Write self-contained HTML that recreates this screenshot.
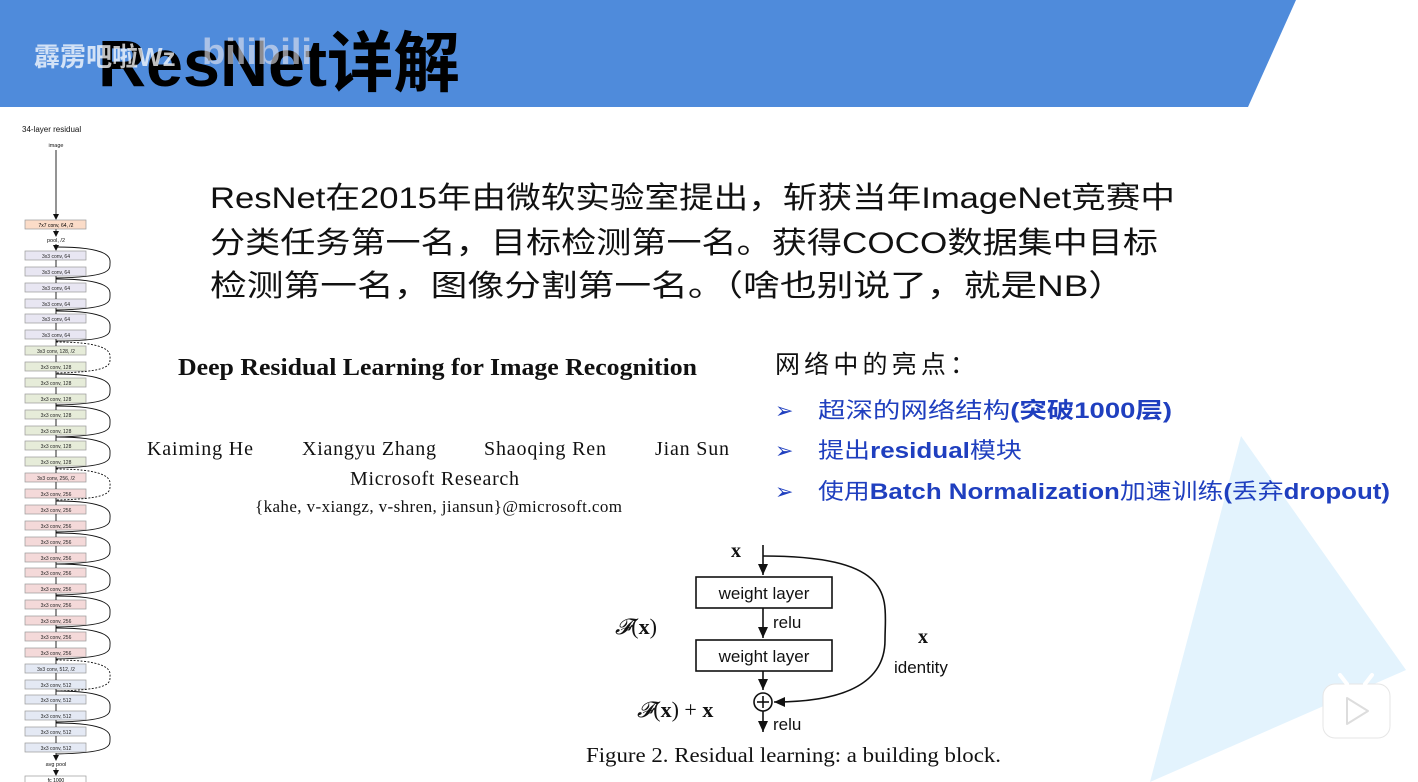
<!DOCTYPE html>
<html><head><meta charset="utf-8"><style>
html,body{margin:0;padding:0;width:1418px;height:782px;overflow:hidden;background:#fff}
svg{display:block}
.cj{font-family:"Liberation Sans","Noto Sans CJK SC",sans-serif}
.se{font-family:"Liberation Serif","Noto Serif CJK SC",serif}
</style></head><body>
<svg width="1418" height="782" viewBox="0 0 1418 782" xmlns="http://www.w3.org/2000/svg">
<defs>
<marker id="a" markerWidth="6" markerHeight="6" refX="5" refY="3" orient="auto" markerUnits="userSpaceOnUse"><path d="M0,0 L6,3 L0,6 z" fill="#111"/></marker>
<marker id="b" markerWidth="12" markerHeight="12" refX="11" refY="5" orient="auto" markerUnits="userSpaceOnUse"><path d="M0,0 L11,5 L0,10 z" fill="#111"/></marker>
</defs>
<polygon points="1150,782 1241,436 1406,670" fill="#e3f3fd"/>
<polygon points="0,0 1296,0 1248,107 0,107" fill="#4f8bdb"/>
<text x="98" y="86" class="cj" font-size="66" font-weight="bold" fill="#000" textLength="362" lengthAdjust="spacingAndGlyphs">ResNet详解</text>
<text x="34" y="66" class="cj" font-size="26" font-weight="bold" fill="#fff" opacity="0.75">霹雳吧啦Wz</text>
<text x="202" y="64" class="cj" font-size="36" font-weight="bold" fill="#e8e8f0" opacity="0.6" textLength="110" lengthAdjust="spacingAndGlyphs">bilibili</text>

<g class="cj" font-size="30" fill="#111">
<text x="210" y="208" textLength="965" lengthAdjust="spacingAndGlyphs">ResNet在2015年由微软实验室提出，斩获当年ImageNet竞赛中</text>
<text x="210" y="253" textLength="948" lengthAdjust="spacingAndGlyphs">分类任务第一名，目标检测第一名。获得COCO数据集中目标</text>
<text x="210" y="296" textLength="915" lengthAdjust="spacingAndGlyphs">检测第一名，图像分割第一名。（啥也别说了，就是NB）</text>
</g>

<g class="se" fill="#111">
<text x="178" y="375" font-size="24" font-weight="bold" textLength="519" lengthAdjust="spacingAndGlyphs">Deep Residual Learning for Image Recognition</text>
<text x="147" y="455" font-size="20" textLength="106">Kaiming He</text>
<text x="302" y="455" font-size="20" textLength="134">Xiangyu Zhang</text>
<text x="484" y="455" font-size="20" textLength="122">Shaoqing Ren</text>
<text x="655" y="455" font-size="20" textLength="74">Jian Sun</text>
<text x="350" y="485" font-size="20" textLength="169">Microsoft Research</text>
<text x="255" y="512" font-size="17" textLength="367">{kahe, v-xiangz, v-shren, jiansun}@microsoft.com</text>
<text x="586" y="762" font-size="21" textLength="415" lengthAdjust="spacingAndGlyphs">Figure 2. Residual learning: a building block.</text>
</g>

<g class="cj">
<text x="775" y="373" font-size="25" fill="#111" textLength="200">网络中的亮点：</text>
<g fill="#1f3fbf" font-size="22">
<text x="775" y="418">➢</text><text x="818" y="418" textLength="354" lengthAdjust="spacingAndGlyphs">超深的网络结构<tspan font-weight="bold">(突破1000层)</tspan></text>
<text x="775" y="458">➢</text><text x="818" y="458" textLength="204" lengthAdjust="spacingAndGlyphs">提出<tspan font-weight="bold">residual</tspan>模块</text>
<text x="775" y="499">➢</text><text x="818" y="499" textLength="572" lengthAdjust="spacingAndGlyphs">使用<tspan font-weight="bold">Batch Normalization</tspan>加速训练<tspan font-weight="bold">(</tspan>丢弃<tspan font-weight="bold">dropout)</tspan></text>
</g>
</g>

<!-- building block -->
<g stroke="#111" stroke-width="1.6" fill="none">
<line x1="763" y1="545" x2="763" y2="575" marker-end="url(#b)"/>
<rect x="696" y="577" width="136" height="31" fill="#fff"/>
<line x1="763" y1="608" x2="763" y2="638" marker-end="url(#b)"/>
<rect x="696" y="640" width="136" height="31" fill="#fff"/>
<line x1="763" y1="671" x2="763" y2="690" marker-end="url(#b)"/>
<circle cx="763" cy="702" r="9" fill="#fff"/>
<line x1="757" y1="702" x2="769" y2="702"/><line x1="763" y1="696" x2="763" y2="708"/>
<line x1="763" y1="711" x2="763" y2="732" marker-end="url(#b)"/>
<path d="M763,556 C900,556 885,600 885,640 C885,690 830,702 774,702" marker-end="url(#b)"/>
</g>
<g class="cj" fill="#111" font-size="17">
<text x="764" y="599" text-anchor="middle">weight layer</text>
<text x="764" y="662" text-anchor="middle">weight layer</text>
<text x="773" y="628">relu</text>
<text x="773" y="730">relu</text>
<text x="894" y="673">identity</text>
</g>
<g class="se" fill="#111">
<text x="731" y="557" font-size="20" font-weight="bold">x</text>
<text x="918" y="643" font-size="20" font-weight="bold">x</text>
<text x="615" y="634" font-size="22" font-style="italic">𝓕<tspan font-style="normal">(</tspan><tspan font-weight="bold" font-style="normal">x</tspan><tspan font-style="normal">)</tspan></text>
<text x="637" y="717" font-size="22" font-style="italic">𝓕<tspan font-style="normal">(</tspan><tspan font-weight="bold" font-style="normal">x</tspan><tspan font-style="normal">) + </tspan><tspan font-weight="bold" font-style="normal">x</tspan></text>
</g>

<!-- bilibili logo -->
<g>
<rect x="1323" y="684" width="67" height="54" rx="12" fill="#fff" stroke="#e6e6e6"/>
<line x1="1340" y1="675" x2="1347" y2="684" stroke="#fff" stroke-width="4" stroke-linecap="round"/>
<line x1="1372" y1="675" x2="1365" y2="684" stroke="#fff" stroke-width="4" stroke-linecap="round"/>
<path d="M1347,698 L1368,711 L1347,724 z" fill="#fff" stroke="#ddd" stroke-width="2" stroke-linejoin="round"/>
</g>

<!-- 34-layer residual -->
<g class="cj" fill="#111">
<text x="22" y="132" font-size="8">34-layer residual</text>
<text x="56" y="147" font-size="5.5" text-anchor="middle">image</text>
<text x="56" y="242" font-size="5.5" text-anchor="middle">pool, /2</text>
<text x="56" y="766" font-size="5.5" text-anchor="middle">avg pool</text>
</g>
<g stroke="#111" stroke-width="0.9" fill="none">
<line x1="56" y1="150" x2="56" y2="219" marker-end="url(#a)"/>
<line x1="56" y1="229" x2="56" y2="236" marker-end="url(#a)"/>
<line x1="56" y1="244" x2="56" y2="250" marker-end="url(#a)"/>
<line x1="56" y1="753" x2="56" y2="760" marker-end="url(#a)"/>
<line x1="56" y1="768" x2="56" y2="775" marker-end="url(#a)"/>
</g>
<rect x="25" y="220" width="61" height="9" fill="#fbdcc8" stroke="#999" stroke-width="0.7"/>
<text x="56" y="227" font-size="5" text-anchor="middle" class="cj">7x7 conv, 64, /2</text>
<rect x="25" y="776" width="61" height="9" fill="#fff" stroke="#999" stroke-width="0.7"/>
<text x="56" y="782" font-size="5" text-anchor="middle" class="cj">fc 1000</text>

<g stroke="#999" stroke-width="0.7">
<rect x="25" y="251" width="61" height="9" fill="#e8e6f2"/><rect x="25" y="267" width="61" height="9" fill="#e8e6f2"/>
<rect x="25" y="283" width="61" height="9" fill="#e8e6f2"/><rect x="25" y="299" width="61" height="9" fill="#e8e6f2"/>
<rect x="25" y="314" width="61" height="9" fill="#e8e6f2"/><rect x="25" y="330" width="61" height="9" fill="#e8e6f2"/>
<rect x="25" y="346" width="61" height="9" fill="#e6ecd9"/><rect x="25" y="362" width="61" height="9" fill="#e6ecd9"/>
<rect x="25" y="378" width="61" height="9" fill="#e6ecd9"/><rect x="25" y="394" width="61" height="9" fill="#e6ecd9"/>
<rect x="25" y="410" width="61" height="9" fill="#e6ecd9"/><rect x="25" y="426" width="61" height="9" fill="#e6ecd9"/>
<rect x="25" y="441" width="61" height="9" fill="#e6ecd9"/><rect x="25" y="457" width="61" height="9" fill="#e6ecd9"/>
<rect x="25" y="473" width="61" height="9" fill="#f4d9d9"/><rect x="25" y="489" width="61" height="9" fill="#f4d9d9"/>
<rect x="25" y="505" width="61" height="9" fill="#f4d9d9"/><rect x="25" y="521" width="61" height="9" fill="#f4d9d9"/>
<rect x="25" y="537" width="61" height="9" fill="#f4d9d9"/><rect x="25" y="553" width="61" height="9" fill="#f4d9d9"/>
<rect x="25" y="568" width="61" height="9" fill="#f4d9d9"/><rect x="25" y="584" width="61" height="9" fill="#f4d9d9"/>
<rect x="25" y="600" width="61" height="9" fill="#f4d9d9"/><rect x="25" y="616" width="61" height="9" fill="#f4d9d9"/>
<rect x="25" y="632" width="61" height="9" fill="#f4d9d9"/><rect x="25" y="648" width="61" height="9" fill="#f4d9d9"/>
<rect x="25" y="664" width="61" height="9" fill="#e4e9f4"/><rect x="25" y="680" width="61" height="9" fill="#e4e9f4"/>
<rect x="25" y="695" width="61" height="9" fill="#e4e9f4"/><rect x="25" y="711" width="61" height="9" fill="#e4e9f4"/>
<rect x="25" y="727" width="61" height="9" fill="#e4e9f4"/><rect x="25" y="743" width="61" height="9" fill="#e4e9f4"/>
</g>
<g class="cj" font-size="5" fill="#222" text-anchor="middle">
<text x="56" y="258">3x3 conv, 64</text><text x="56" y="274">3x3 conv, 64</text><text x="56" y="290">3x3 conv, 64</text><text x="56" y="306">3x3 conv, 64</text><text x="56" y="321">3x3 conv, 64</text><text x="56" y="337">3x3 conv, 64</text>
<text x="56" y="353">3x3 conv, 128, /2</text><text x="56" y="369">3x3 conv, 128</text><text x="56" y="385">3x3 conv, 128</text><text x="56" y="401">3x3 conv, 128</text><text x="56" y="417">3x3 conv, 128</text><text x="56" y="433">3x3 conv, 128</text><text x="56" y="448">3x3 conv, 128</text><text x="56" y="464">3x3 conv, 128</text>
<text x="56" y="480">3x3 conv, 256, /2</text><text x="56" y="496">3x3 conv, 256</text><text x="56" y="512">3x3 conv, 256</text><text x="56" y="528">3x3 conv, 256</text><text x="56" y="544">3x3 conv, 256</text><text x="56" y="560">3x3 conv, 256</text><text x="56" y="575">3x3 conv, 256</text><text x="56" y="591">3x3 conv, 256</text><text x="56" y="607">3x3 conv, 256</text><text x="56" y="623">3x3 conv, 256</text><text x="56" y="639">3x3 conv, 256</text><text x="56" y="655">3x3 conv, 256</text>
<text x="56" y="671">3x3 conv, 512, /2</text><text x="56" y="687">3x3 conv, 512</text><text x="56" y="702">3x3 conv, 512</text><text x="56" y="718">3x3 conv, 512</text><text x="56" y="734">3x3 conv, 512</text><text x="56" y="750">3x3 conv, 512</text>
</g>
<g stroke="#111" stroke-width="0.9" fill="none">
<path d="M56,260V267M56,276V283M56,292V299M56,308V314M56,323V330M56,339V346M56,355V362M56,371V378M56,387V394M56,403V410M56,419V426M56,435V441M56,450V457M56,466V473M56,482V489M56,498V505M56,514V521M56,530V537M56,546V553M56,562V568M56,577V584M56,593V600M56,609V616M56,625V632M56,641V648M56,657V664M56,673V680M56,689V695M56,704V711M56,720V727M56,736V743"/>
<path d="M56,247 C115,247 110,260 110,264 C110,270 110,277 56,278"/>
<path d="M56,279 C115,279 110,292 110,296 C110,302 110,309 56,310"/>
<path d="M56,311 C115,311 110,324 110,328 C110,334 110,341 56,341"/>
<path d="M56,342 C115,342 110,355 110,359 C110,365 110,372 56,373" stroke-dasharray="2,1.5"/>
<path d="M56,374 C115,374 110,387 110,391 C110,397 110,404 56,405"/>
<path d="M56,406 C115,406 110,419 110,423 C110,429 110,436 56,437"/>
<path d="M56,437 C115,437 110,450 110,454 C110,460 110,467 56,468"/>
<path d="M56,469 C115,469 110,482 110,486 C110,492 110,499 56,500" stroke-dasharray="2,1.5"/>
<path d="M56,501 C115,501 110,514 110,518 C110,524 110,531 56,532"/>
<path d="M56,533 C115,533 110,546 110,550 C110,556 110,563 56,564"/>
<path d="M56,564 C115,564 110,577 110,581 C110,587 110,594 56,595"/>
<path d="M56,596 C115,596 110,609 110,613 C110,619 110,626 56,627"/>
<path d="M56,628 C115,628 110,641 110,645 C110,651 110,658 56,659"/>
<path d="M56,660 C115,660 110,673 110,677 C110,683 110,690 56,691" stroke-dasharray="2,1.5"/>
<path d="M56,691 C115,691 110,704 110,708 C110,714 110,721 56,722"/>
<path d="M56,723 C115,723 110,736 110,740 C110,746 110,753 56,754"/>
</g>
</svg>
</body></html>
